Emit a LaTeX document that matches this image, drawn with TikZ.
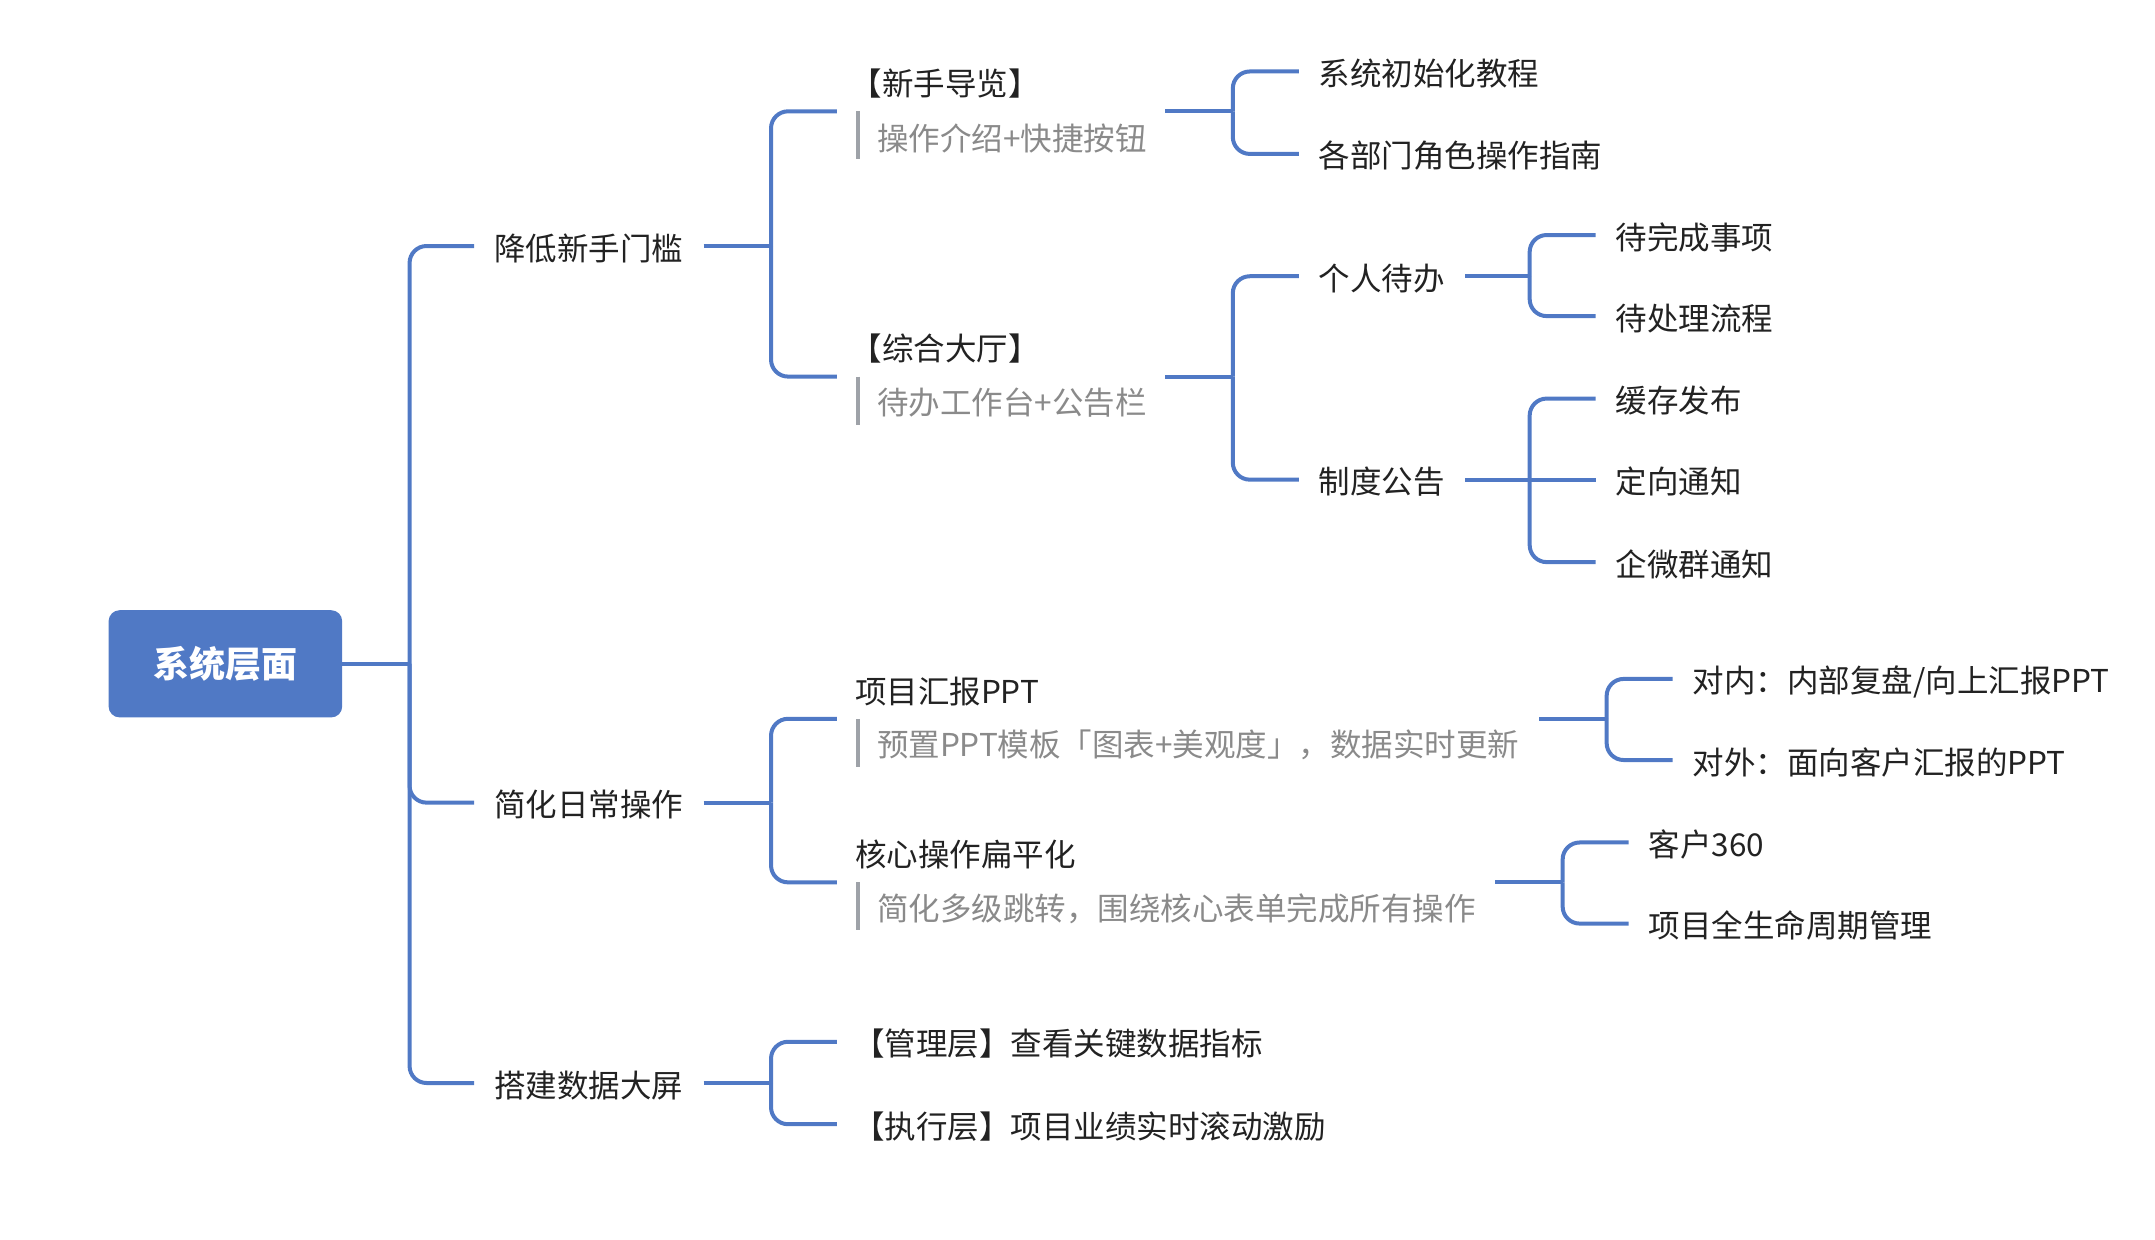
\documentclass[tikz,border=0pt]{standalone}
\usepackage{fontspec}
\setmainfont{Noto Sans CJK SC}
\definecolor{xblue}{HTML}{5079C5}
\definecolor{xgray}{HTML}{8A8A8A}
\definecolor{xbar}{HTML}{9EA2A8}
\definecolor{xtext}{HTML}{222222}
\begin{document}
\begin{tikzpicture}[x=1.3744pt, y=-1.3744pt,
  conn/.style={draw=xblue, line width=4pt, rounded corners=17pt},
  leafnode/.style={anchor=west, inner xsep=20pt, inner ysep=0pt, text height=28.2pt, text depth=0.2pt, font=\fontsize{31.5pt}{38pt}\selectfont, text=xtext},
  topictitle/.style={anchor=west, inner sep=0pt, text height=26.2pt, text depth=2.2pt, font=\fontsize{31.5pt}{38pt}\selectfont, text=xtext},
  topicsub/.style={topictitle, text=xgray},
  barline/.style={draw=xbar, line width=4pt},
  rootbox/.style={fill=xblue, rounded corners=11pt, minimum width=233.6pt, minimum height=107.2pt, inner sep=0pt, text=white, font=\fontsize{36pt}{40pt}\selectfont\bfseries}]
\useasboundingbox (0,0) rectangle (1568,902);

% root
\node[rootbox] (root) at (164,483) {系统层面};
\coordinate (tr) at (298,483);
\draw[conn] (root.east) -- (tr);

% level 1
\node[leafnode] (a) at (345,179) {降低新手门槛};
\node[leafnode] (b) at (345,584) {简化日常操作};
\node[leafnode] (c) at (345,788) {搭建数据大屏};
\draw[conn] (tr) |- (a.west);
\draw[conn] (tr) |- (b.west);
\draw[conn] (tr) |- (c.west);

% ---- branch a
\coordinate (ja) at (561,179);
\draw[conn] (a.east) -- (ja);
\coordinate (n1in) at (609,81);
\coordinate (n1out) at (848,81);
\coordinate (n2in) at (609,274);
\coordinate (n2out) at (848,274);
\draw[conn] (ja) |- (n1in);
\draw[conn] (ja) |- (n2in);

\node[topictitle] (n1t) at (619,60.5) {【新手导览】};
\node[topicsub] (n1s) at (638,100.5) {操作介绍+快捷按钮};
\draw[barline] (624,81) -- (624,116);

\node[topictitle] (n2t) at (619,253.5) {【综合大厅】};
\node[topicsub] (n2s) at (638,293) {待办工作台+公告栏};
\draw[barline] (624,274) -- (624,309);

% children of n1
\coordinate (j1) at (897,81);
\draw[conn] (n1out) -- (j1);
\node[leafnode] (c11) at (945,52) {系统初始化教程};
\node[leafnode] (c12) at (945,112) {各部门角色操作指南};
\draw[conn] (j1) |- (c11.west);
\draw[conn] (j1) |- (c12.west);

% children of n2
\coordinate (j2) at (897,274);
\draw[conn] (n2out) -- (j2);
\node[leafnode] (c21) at (945,201) {个人待办};
\node[leafnode] (c22) at (945,349) {制度公告};
\draw[conn] (j2) |- (c21.west);
\draw[conn] (j2) |- (c22.west);

\coordinate (j21) at (1113,201);
\draw[conn] (c21.east) -- (j21);
\node[leafnode] (d1) at (1161,171) {待完成事项};
\node[leafnode] (d2) at (1161,230) {待处理流程};
\draw[conn] (j21) |- (d1.west);
\draw[conn] (j21) |- (d2.west);

\coordinate (j22) at (1113,349);
\draw[conn] (c22.east) -- (j22);
\node[leafnode] (d3) at (1161,290) {缓存发布};
\node[leafnode] (d4) at (1161,349) {定向通知};
\node[leafnode] (d5) at (1161,409) {企微群通知};
\draw[conn] (j22) |- (d3.west);
\draw[conn] (j22) -- (d4.west);
\draw[conn] (j22) |- (d5.west);

% ---- branch b
\coordinate (jb) at (561,584);
\draw[conn] (b.east) -- (jb);
\coordinate (n3in) at (609,523);
\coordinate (n3out) at (1120,523);
\coordinate (n4in) at (609,642);
\coordinate (n4out) at (1088,642);
\draw[conn] (jb) |- (n3in);
\draw[conn] (jb) |- (n4in);

\node[topictitle] (n3t) at (622,503) {项目汇报PPT};
\node[topicsub] (n3s) at (638,542) {预置PPT模板「图表+美观度」，数据实时更新};
\draw[barline] (624,523) -- (624,558);

\node[topictitle] (n4t) at (622,621.5) {核心操作扁平化};
\node[topicsub] (n4s) at (638,661) {简化多级跳转，围绕核心表单完成所有操作};
\draw[barline] (624,642) -- (624,677);

\coordinate (j3) at (1169,523);
\draw[conn] (n3out) -- (j3);
\node[leafnode] (e1) at (1217,494) {对内：内部复盘/向上汇报PPT};
\node[leafnode] (e2) at (1217,553) {对外：面向客户汇报的PPT};
\draw[conn] (j3) |- (e1.west);
\draw[conn] (j3) |- (e2.west);

\coordinate (j4) at (1137,642);
\draw[conn] (n4out) -- (j4);
\node[leafnode] (e3) at (1185,613) {客户360};
\node[leafnode] (e4) at (1185,672) {项目全生命周期管理};
\draw[conn] (j4) |- (e3.west);
\draw[conn] (j4) |- (e4.west);

% ---- branch c
\coordinate (jc) at (561,788);
\draw[conn] (c.east) -- (jc);
\node[leafnode, inner xsep=16pt] (f1) at (609,758) {【管理层】查看关键数据指标};
\node[leafnode, inner xsep=16pt] (f2) at (609,818) {【执行层】项目业绩实时滚动激励};
\draw[conn] (jc) |- (f1.west);
\draw[conn] (jc) |- (f2.west);
\end{tikzpicture}
\end{document}
